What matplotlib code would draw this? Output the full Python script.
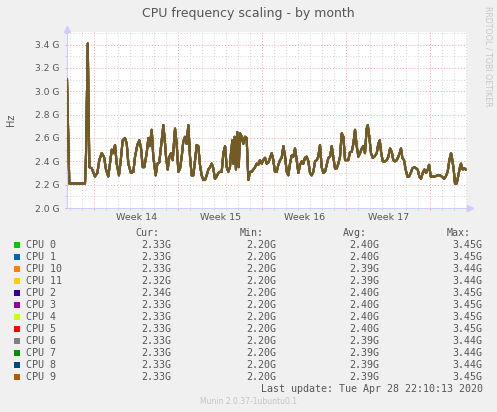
import numpy as np
import matplotlib
matplotlib.use("Agg")
from matplotlib import pyplot as plt
from matplotlib.patches import Rectangle
from matplotlib.transforms import blended_transform_factory

# shared trace (all 12 cores sit on top of each other)
days = [0.0, 0.19, 1.50, 1.58, 1.73, 1.86, 2.06, 2.33, 2.53, 2.69, 2.89, 3.08, 3.25, 3.44,
        3.58, 3.73, 3.86, 4.00, 4.14, 4.33, 4.48, 4.64, 4.83, 4.98, 5.11, 5.33, 5.53, 5.67,
        5.86, 6.03, 6.17, 6.31, 6.44, 6.64, 6.78, 6.89, 7.06, 7.19, 7.39, 7.53, 7.69, 7.89,
        8.03, 8.17, 8.25, 8.39, 8.53, 8.67, 8.81, 9.00, 9.14, 9.28, 9.42, 9.56, 9.69, 9.83,
        9.97, 10.11, 10.25, 10.39, 10.53, 10.67, 10.81, 10.94, 11.08, 11.22, 11.36, 11.50,
        11.64, 11.78, 11.92, 12.06, 12.19, 12.33, 12.47, 12.61, 12.75, 12.89, 13.03, 13.17,
        13.31, 13.44, 13.58, 13.67, 13.78, 13.86, 13.97, 14.08, 14.19, 14.31, 14.42, 14.56,
        14.69, 14.83, 14.97, 15.11, 15.25, 15.39, 15.53, 15.67, 15.81, 15.94, 16.08, 16.22,
        16.36, 16.50, 16.64, 16.78, 17.06, 17.19, 17.33, 17.47, 17.61, 17.75, 17.89, 18.03,
        18.17, 18.31, 18.44, 18.58, 18.72, 18.86, 19.00, 19.14, 19.28, 19.42, 19.56, 19.69,
        19.83, 19.97, 20.11, 20.25, 20.39, 20.53, 20.67, 20.81, 20.94, 21.08, 21.22, 21.36,
        21.50, 21.64, 21.78, 21.92, 22.06, 22.19, 22.33, 22.47, 22.61, 22.75, 22.89, 23.03,
        23.17, 23.31, 23.44, 23.58, 23.72, 23.86, 24.00, 24.14, 24.28, 24.42, 24.56, 24.69,
        24.83, 24.97, 25.06, 25.19, 25.33, 25.47, 25.61, 25.81, 25.94, 26.06, 26.17, 26.31,
        26.50, 26.64, 26.78, 26.92, 27.06, 27.19, 27.33, 27.47, 27.61, 27.75, 27.83, 27.94,
        28.08, 28.22, 28.36, 28.50, 28.64, 28.78, 28.94, 29.08, 29.22, 29.36, 29.50, 29.64,
        29.78, 29.92, 30.06, 30.17, 30.31, 30.44, 30.67, 30.86, 31.08, 31.22, 31.42, 31.56,
        31.72, 31.86, 32.00, 32.11, 32.22, 32.33, 32.47, 32.61, 32.72, 32.83, 32.97, 33.11,
        33.22]
freq_ghz = [3.10, 2.21, 2.21, 2.44, 3.41, 2.35, 2.34, 2.27, 2.30, 2.41, 2.47, 2.44, 2.33, 2.27,
            2.38, 2.50, 2.47, 2.54, 2.38, 2.28, 2.41, 2.58, 2.60, 2.55, 2.38, 2.30, 2.31, 2.44,
            2.54, 2.58, 2.51, 2.35, 2.35, 2.47, 2.60, 2.53, 2.67, 2.44, 2.28, 2.38, 2.39, 2.58,
            2.71, 2.55, 2.44, 2.33, 2.44, 2.47, 2.41, 2.68, 2.55, 2.31, 2.34, 2.44, 2.57, 2.61,
            2.55, 2.71, 2.44, 2.28, 2.28, 2.41, 2.54, 2.53, 2.37, 2.28, 2.24, 2.24,
            2.28, 2.33, 2.35, 2.38, 2.34, 2.25, 2.27, 2.30, 2.31, 2.31, 2.47, 2.53,
            2.35, 2.31, 2.35, 2.48, 2.58, 2.38, 2.61, 2.33, 2.65, 2.35, 2.64, 2.61,
            2.55, 2.61, 2.60, 2.24, 2.31, 2.31, 2.33, 2.35, 2.38, 2.37, 2.41, 2.38,
            2.41, 2.43, 2.38, 2.39, 2.47, 2.41, 2.31, 2.31, 2.37, 2.41, 2.43, 2.53,
            2.44, 2.31, 2.28, 2.38, 2.45, 2.44, 2.51, 2.41, 2.30, 2.37, 2.40, 2.38,
            2.43, 2.44, 2.40, 2.30, 2.28, 2.31, 2.40, 2.41, 2.44, 2.54, 2.35, 2.30,
            2.31, 2.37, 2.43, 2.44, 2.53, 2.44, 2.34, 2.34, 2.38, 2.44, 2.64, 2.61,
            2.41, 2.41, 2.41, 2.48, 2.48, 2.55, 2.67, 2.53, 2.44, 2.47, 2.51, 2.53,
            2.47, 2.68, 2.71, 2.61, 2.47, 2.43, 2.44, 2.47, 2.55, 2.58, 2.48, 2.40,
            2.40, 2.41, 2.44, 2.51, 2.48, 2.41, 2.40, 2.41, 2.44, 2.48, 2.51, 2.43,
            2.41, 2.33, 2.27, 2.27, 2.30, 2.34, 2.35, 2.34, 2.33, 2.27, 2.25, 2.30,
            2.33, 2.30, 2.33, 2.37, 2.27, 2.27, 2.27, 2.28, 2.28, 2.27, 2.25, 2.27,
            2.31, 2.41, 2.47, 2.41, 2.33, 2.21, 2.21, 2.28, 2.34, 2.38, 2.33, 2.34,
            2.33]

cpu_names = ["CPU 0", "CPU 1", "CPU 10", "CPU 11", "CPU 2", "CPU 3",
             "CPU 4", "CPU 5", "CPU 6", "CPU 7", "CPU 8", "CPU 9"]
cpu_colors = ["#00cc00", "#0066b3", "#ff8000", "#ffcc00", "#330099", "#990099",
              "#ccff00", "#ff0000", "#808080", "#008f00", "#00487d", "#b35a00"]
cur_vals = [2.33, 2.33, 2.33, 2.32, 2.34, 2.33, 2.33, 2.33, 2.33, 2.33, 2.33, 2.33]
min_vals = [2.20] * 12
avg_vals = [2.40, 2.40, 2.39, 2.39, 2.40, 2.40, 2.40, 2.40, 2.39, 2.39, 2.39, 2.39]
max_vals = [3.45, 3.45, 3.44, 3.44, 3.45, 3.45, 3.45, 3.45, 3.44, 3.44, 3.44, 3.45]

week_starts = [2.28, 9.28, 16.28, 23.28, 30.28]
week_labels = ["Week 14", "Week 15", "Week 16", "Week 17"]
span_days = 33.33

W, H = 497, 412
BG = "#f0f0f0"
TXT = "#555555"
AXIS = "#ccccff"


def fx(px):
    return px / W


def fy(py):
    return 1 - py / H


fig = plt.figure(figsize=(W / 100, H / 100), dpi=100, facecolor=BG)
ax = fig.add_axes([fx(67), fy(208), 400 / W, 176 / H])
ax.set_facecolor("white")

for name, col in zip(cpu_names, cpu_colors):
    ax.plot(days, freq_ghz, color=col, lw=1.5, alpha=0.6, solid_joinstyle="round", zorder=3)

ax.set_xlim(0, span_days)
ax.set_ylim(2.0, 3.508)

# grid
yt = np.round(np.arange(2.0, 3.45, 0.2), 1)
ax.set_yticks(yt, labels=[f"{v:.1f} G" for v in yt])
ax.set_yticks(np.round(np.arange(2.1, 3.51, 0.1), 1), minor=True)
ax.set_xticks(week_starts, labels=[""] * len(week_starts))
ax.set_xticks(np.arange(week_starts[0] - 2, span_days, 1.0), minor=True)
ax.grid(which="major", color="#f5a0a0", lw=0.7, ls=(0, (1, 2)), zorder=1)
ax.grid(which="minor", color="#d4d4d4", lw=0.7, ls=(0, (1, 2)), zorder=0)
ax.tick_params(which="both", length=1.5, width=0.7, colors="#d0d0d0",
               labelcolor=TXT, labelsize=6.6, pad=4)
ax.tick_params(which="major", colors="#f5a0a0", labelcolor=TXT)

for s in ["top", "right"]:
    ax.spines[s].set_visible(False)
for s in ["left", "bottom"]:
    ax.spines[s].set_color(AXIS)
    ax.spines[s].set_linewidth(0.8)
ax.plot([1.008], [0], marker=">", ms=4, color=AXIS, transform=ax.transAxes, clip_on=False)
ax.plot([0], [1.018], marker="^", ms=4, color=AXIS, transform=ax.transAxes, clip_on=False)

tr = blended_transform_factory(ax.transData, fig.transFigure)
for start, lab in zip(week_starts, week_labels):
    ax.text(start + 3.5, fy(217.5), lab, transform=tr, ha="center", va="center",
            fontsize=6.8, color=TXT)

fig.text(fx(248), fy(13), "CPU frequency scaling - by month", ha="center", va="center",
         fontsize=9, color=TXT)
fig.text(fx(11), fy(120), "Hz", rotation=90, ha="center", va="center", fontsize=7, color=TXT)
fig.text(fx(488), fy(56), "RRDTOOL / TOBI OETIKER", rotation=270, ha="center", va="center",
         fontsize=5.7, color="#c8c8c8")

# legend table
mono = "DejaVu Sans Mono"
ls = 7.2
col_right = [171.7, 276, 379, 482.7]
headers = ["Cur:", "Min:", "Avg:", "Max:"]
for xr, hd in zip(col_right, headers):
    fig.text(fx(xr - 12), fy(232.5), hd, ha="right", va="center", family=mono, fontsize=ls, color=TXT)

for i, name in enumerate(cpu_names):
    yrow = 245 + 12 * i
    fig.add_artist(Rectangle((fx(14), fy(yrow + 3)), 6 / W, 6 / H, transform=fig.transFigure,
                             facecolor=cpu_colors[i], edgecolor="none"))
    fig.text(fx(26.3), fy(yrow), name, ha="left", va="center", family=mono, fontsize=ls, color=TXT)
    for xr, vals in zip(col_right, [cur_vals, min_vals, avg_vals, max_vals]):
        fig.text(fx(xr), fy(yrow), f"{vals[i]:.2f}G", ha="right", va="center",
                 family=mono, fontsize=ls, color=TXT)

fig.text(fx(482.7), fy(388.5), "Last update: Tue Apr 28 22:10:13 2020", ha="right", va="center",
         family=mono, fontsize=ls, color=TXT)
fig.text(fx(248), fy(401), "Munin 2.0.37-1ubuntu0.1", ha="center", va="center",
         fontsize=5.5, color="#c4c4c4")

fig.savefig("out.png", dpi=100, facecolor=BG)
